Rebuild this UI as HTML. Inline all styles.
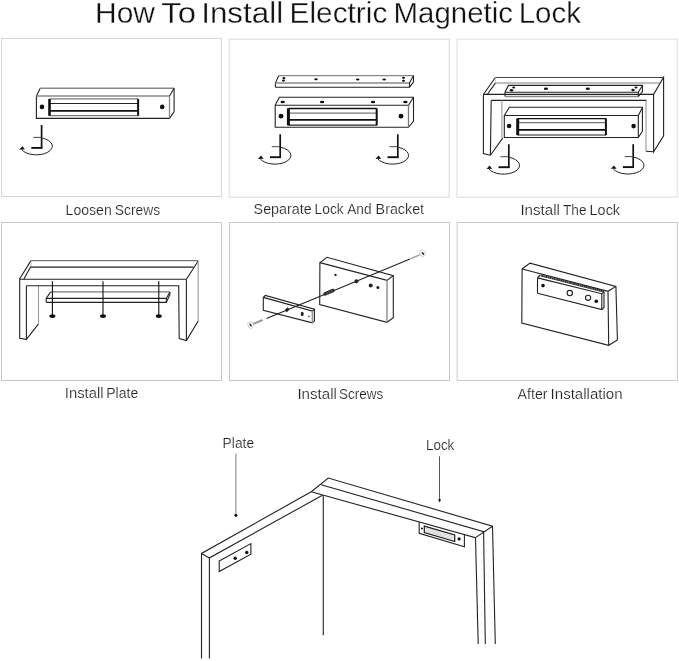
<!DOCTYPE html>
<html><head><meta charset="utf-8">
<style>
html,body{margin:0;padding:0;background:#fff;}
body{width:679px;height:661px;overflow:hidden;}
svg{display:block;will-change:transform;}
text{font-family:"Liberation Sans",sans-serif;}
</style></head>
<body>
<svg width="679" height="661" viewBox="0 0 679 661">
<defs>
<g id="rot">
  <path d="M41.6 125V148.6" stroke="#111" stroke-width="1.7" fill="none"/>
  <path d="M31.3 147.9H42.4" stroke="#111" stroke-width="1.9" fill="none"/>
  <path d="M33.2 137.4H41.6" stroke="#333" stroke-width="0.9" fill="none"/>
  <path d="M42.3 138.05A16 8.7 0 1 1 21.6 149.5" stroke="#222" stroke-width="1" fill="none"/>
  <path d="M19.3 149.6L22.4 146.3L25 149.5Z" fill="#111"/>
</g>
</defs>
<rect width="679" height="661" fill="#fff"/>
<!-- panel borders -->
<g fill="none" stroke-width="1">
  <rect x="1.6" y="38.5" width="219.8" height="158" stroke="#d5d5d5"/>
  <rect x="229.4" y="39.3" width="219.8" height="157.9" stroke="#e6e6e6" stroke-width="1.6"/>
  <rect x="457.1" y="39.3" width="220.3" height="157.9" stroke="#e9e9e9" stroke-width="1.6"/>
  <rect x="1.5" y="222.5" width="220" height="158" stroke="#c8c8c8"/>
  <rect x="229.5" y="222.5" width="220" height="158" stroke="#c8c8c8"/>
  <rect x="457.1" y="222.5" width="220.4" height="158" stroke="#cacaca"/>
</g>
<!-- title -->
<g font-size="29.5" fill="#111" stroke="#fff" stroke-width="0.3">
  <text x="95.10" y="22.8" textLength="59.90" lengthAdjust="spacingAndGlyphs">How</text>
  <text x="161.20" y="22.8" textLength="34.80" lengthAdjust="spacingAndGlyphs">To</text>
  <text x="201.20" y="22.8" textLength="82.00" lengthAdjust="spacingAndGlyphs">Install</text>
  <text x="289.60" y="22.8" textLength="97.70" lengthAdjust="spacingAndGlyphs">Electric</text>
  <text x="393.60" y="22.8" textLength="119.30" lengthAdjust="spacingAndGlyphs">Magnetic</text>
  <text x="518.70" y="22.8" textLength="62.20" lengthAdjust="spacingAndGlyphs">Lock</text>
</g>
<!-- captions -->
<g font-size="14.7" fill="#222" stroke="#fff" stroke-width="0.2">
  <text x="65.60" y="214.5" textLength="46.10" lengthAdjust="spacingAndGlyphs">Loosen</text>
  <text x="114.80" y="214.5" textLength="45.30" lengthAdjust="spacingAndGlyphs">Screws</text>
  <text x="253.60" y="213.5" textLength="58.10" lengthAdjust="spacingAndGlyphs">Separate</text>
  <text x="314.60" y="213.5" textLength="29.10" lengthAdjust="spacingAndGlyphs">Lock</text>
  <text x="347.20" y="213.5" textLength="24.30" lengthAdjust="spacingAndGlyphs">And</text>
  <text x="375.60" y="213.5" textLength="48.50" lengthAdjust="spacingAndGlyphs">Bracket</text>
  <text x="520.40" y="214.5" textLength="39.50" lengthAdjust="spacingAndGlyphs">Install</text>
  <text x="563.00" y="214.5" textLength="23.50" lengthAdjust="spacingAndGlyphs">The</text>
  <text x="589.60" y="214.5" textLength="30.50" lengthAdjust="spacingAndGlyphs">Lock</text>
  <text x="64.80" y="398" textLength="38.70" lengthAdjust="spacingAndGlyphs">Install</text>
  <text x="106.20" y="398" textLength="32.10" lengthAdjust="spacingAndGlyphs">Plate</text>
  <text x="297.40" y="399" textLength="39.50" lengthAdjust="spacingAndGlyphs">Install</text>
  <text x="339.00" y="399" textLength="44.30" lengthAdjust="spacingAndGlyphs">Screws</text>
  <text x="517.60" y="399" textLength="29.90" lengthAdjust="spacingAndGlyphs">After</text>
  <text x="550.60" y="399" textLength="71.90" lengthAdjust="spacingAndGlyphs">Installation</text>
  <text x="222.60" y="447.7" textLength="31.50" lengthAdjust="spacingAndGlyphs">Plate</text>
  <text x="426.00" y="449.8" textLength="28.30" lengthAdjust="spacingAndGlyphs">Lock</text>
</g>

<!-- PANEL 1 -->
<g fill="none" stroke="#222" stroke-width="1.1">
  <path d="M36.4 95.9L40.3 88.2M174.1 88.2V111.8L169.5 118.4H36.4V95.9"/>
  <path d="M40.3 88.2H174.1" stroke="#888" stroke-width="1.4"/>
  <path d="M36.4 96H169.5" stroke="#888" stroke-width="1.5"/>
  <path d="M169.5 96L174.1 88.2"/>
  <path d="M169.5 96V118.4" stroke="#888" stroke-width="1.3"/>
  <path d="M49.4 98.9H138.1" stroke="#777" stroke-width="1.3"/><path d="M49.4 103.5H138.1" stroke="#222" stroke-width="1"/><path d="M49.4 115.6H138.1" stroke="#777" stroke-width="1.3"/>
  <path d="M49.4 110.8H138.1" stroke-width="1.8" stroke="#111"/>
  <path d="M49.5 99V115.8" stroke-width="2.6" stroke="#111"/>
  <path d="M138.1 99V115.8" stroke-width="2" stroke="#111"/>
</g>
<circle cx="42" cy="106.9" r="2.3" fill="#111"/>
<circle cx="162.2" cy="106.9" r="2.3" fill="#111"/>
<use href="#rot"/>

<!-- PANEL 2 -->
<g fill="none" stroke="#222" stroke-width="1.1">
  <path d="M275.4 87.2V83L278.8 75.6M413.5 75.6V82L409.5 87.2H275.4"/><path d="M278.8 75.7H413.5" stroke="#888" stroke-width="1.3"/>
  <path d="M275.4 82.9H409.5" stroke="#888" stroke-width="1.5"/><path d="M409.5 83L413.5 75.6M409.5 83V87.2"/>
  <path d="M275.2 105.2L279.3 97.2H413.5V121.4L408.5 127.3H275.2Z"/>
  <path d="M275.2 105.3H408.5L413.5 97.2"/><path d="M408.5 105.3V127.3" stroke="#777" stroke-width="1.3"/>
  <path d="M288.4 108.5H376.7" stroke="#111" stroke-width="1.4"/><path d="M288.4 113.1H376.7" stroke="#777" stroke-width="1.2"/><path d="M288.4 125.2H376.7" stroke="#222" stroke-width="1.2"/>
  <path d="M288.4 119.8H376.7" stroke-width="1.8" stroke="#111"/>
  <path d="M288.4 108.3V125.4" stroke-width="3" stroke="#111"/>
  <path d="M376.7 108.3V125.4" stroke-width="2" stroke="#111"/>
</g>
<g fill="#111">
  <ellipse cx="283.9" cy="78.2" rx="1.5" ry="1.1"/><ellipse cx="283.4" cy="80.6" rx="1.5" ry="1.1"/>
  <ellipse cx="316" cy="79.3" rx="1.8" ry="1"/><ellipse cx="357.7" cy="79.4" rx="1.8" ry="1"/>
  <ellipse cx="384.2" cy="79.4" rx="1.8" ry="1"/>
  <ellipse cx="403.5" cy="77.8" rx="1.5" ry="1.1"/><ellipse cx="403.5" cy="80.8" rx="1.5" ry="1.1"/>
  <ellipse cx="282.7" cy="102" rx="2.2" ry="1.3"/><ellipse cx="322.1" cy="102" rx="2.2" ry="1.3"/>
  <ellipse cx="373" cy="102" rx="2.2" ry="1.3"/><ellipse cx="405.4" cy="102" rx="2.2" ry="1.3"/>
  <circle cx="281" cy="116.2" r="2.4"/><circle cx="401" cy="116.2" r="2.4"/>
</g>
<use href="#rot" x="238.6" y="9.3"/>
<use href="#rot" x="356.2" y="9.3"/>

<!-- PANEL 3 -->
<g fill="none" stroke="#222" stroke-width="1.1">
  <path d="M483.4 94.5L495.3 77.5"/><path d="M495.3 77.5H663.6" stroke="#444"/>
  <path d="M487.3 94.5L495.5 82.9"/>
  <path d="M495.5 82.9H659.5" stroke="#aaa" stroke-width="1.5"/><path d="M495.3 77.5V82.9" stroke="#bbb" stroke-width="0.8"/>
  <path d="M483.4 94.4H653.6L663.6 77.3V135.9L653.6 151.8V94.1"/>
  <path d="M653.6 151.8L646 151.2"/>
  <path d="M646 151.2V100.4" stroke="#999"/>
  <path d="M491.2 100.4H646.3"/>
  <path d="M483.4 94.5V153.6L490.4 155.2L502.7 138.1M491.2 100.4L490.4 155.2"/>
  <path d="M501.9 100.4V138.1" stroke="#999"/>
  <path d="M505 96.5V92.2L508.5 85.4H642.4V91.8L638.3 96.5"/><path d="M505 96.5H638.3" stroke="#888" stroke-width="1.5"/>
  <path d="M505 92.2H638.3L642.4 85.5M638.3 92.4V96.5"/>
  <path d="M504.3 115.5L509.4 107.2H642.4V131.2L638.3 137.5H504.3Z"/>
  <path d="M504.3 115.5H638.3L642.4 107.7M638.3 115.5V137.5"/>
  <path d="M517.7 118.6H605.9" stroke="#111" stroke-width="1.4"/><path d="M517.7 122.7H605.9" stroke="#777" stroke-width="1.2"/><path d="M517.7 135H605.9" stroke="#222" stroke-width="1.2"/>
  <path d="M517.7 129.9H605.9" stroke-width="1.8" stroke="#111"/>
  <path d="M517.7 118.4V135.2" stroke-width="3" stroke="#111"/>
  <path d="M605.9 118.4V135.2" stroke-width="2" stroke="#111"/>
</g>
<g fill="#111">
  <circle cx="509.1" cy="126" r="2.3"/><circle cx="633.6" cy="126.1" r="2.3"/>
  <ellipse cx="513.7" cy="87.4" rx="1.5" ry="1"/><ellipse cx="511.5" cy="90.2" rx="1.7" ry="1.2"/>
  <ellipse cx="545.9" cy="88.8" rx="2.1" ry="1.3"/><ellipse cx="587.8" cy="88.8" rx="2.1" ry="1.3"/>
  <ellipse cx="633" cy="90" rx="1.7" ry="1.2"/><ellipse cx="636" cy="87.4" rx="1.5" ry="1"/>
</g>
<use href="#rot" x="467.2" y="19.3"/>
<use href="#rot" x="591.6" y="19.2"/>

<!-- PANEL 4 -->
<g fill="none" stroke="#222" stroke-width="1.1">
  <path d="M19.4 279.2L31 260.6"/><path d="M31 260.7H198.2" stroke="#777" stroke-width="1.3"/><path d="M31 260.6V267" stroke="#aaa" stroke-width="0.8"/>
  <path d="M23.8 279.2L30.5 267.1H193.6"/>
  <path d="M19.4 279.2H186.4L198.2 261"/>
  <path d="M19.7 279.2V338.2L26.4 339.3L38.5 323.8"/>
  <path d="M38.5 323.8V285.7" stroke="#999"/>
  <path d="M26.4 285.7V339.3M26.4 285.7H178.7L179.2 338.5L186.4 340.5L198.2 321"/>
  <path d="M198.2 321V261" stroke="#999"/>
  <path d="M186.4 279.5V340.5"/>
  <path d="M46.2 302.2V298.4L50.6 291.9" /><path d="M50.6 291.9H169.9" stroke="#777" stroke-width="1.3"/><path d="M169.9 291.9V294.6L166.3 302.4H46.2"/>
  <path d="M46.2 298.4H166.3L169.9 292M166.3 298.5V302.4"/>
  <path d="M52.4 281.3V315M103 281.3V315M158.8 281.3V315" stroke="#111"/>
</g>
<g fill="#111">
  <ellipse cx="52.4" cy="316.1" rx="3" ry="1.9"/>
  <ellipse cx="103" cy="316.1" rx="3" ry="1.9"/>
  <ellipse cx="158.8" cy="316.1" rx="3" ry="1.9"/>
</g>

<!-- PANEL 5 -->
<g fill="none" stroke="#222" stroke-width="1.1">
  <path d="M319.9 262.6L327 257.3L393.3 275.6V317.8L387 322.3L319.7 304.5Z"/>
  <path d="M319.9 262.6L387 280.4L393.3 275.6"/>
  <path d="M387 280.4V322.3" stroke="#999" stroke-width="1.6"/>
  <path d="M263.3 310.3V297.4L265.3 295.4L314.4 309.1V321L312.4 322.9Z"/>
  <path d="M263.3 297.4L312.4 311.1L314.4 309.1"/>
  <path d="M312.4 311.1V322.9" stroke="#999" stroke-width="1.6"/>
  <path d="M410 259L266.5 318.6" stroke="#222"/>
  <path d="M325 293.8L333 290.5" stroke="#333" stroke-width="3.6" stroke-linecap="round"/><path d="M326.5 292.1L327.8 294.4M328.8 291.2L330.1 293.5M331.1 290.3L332.4 292.6" stroke="#777" stroke-width="0.6"/>
  <path d="M410.5 258.8L420 254.7" stroke="#aaa" stroke-width="1.6"/><path d="M262.6 320L253 324" stroke="#999" stroke-width="2"/>
</g>
<g fill="#222">
  <circle cx="335.5" cy="274.9" r="1.2"/><circle cx="356.4" cy="281.2" r="2"/>
  <circle cx="370.7" cy="285.5" r="2"/><circle cx="377.9" cy="287.5" r="1.5"/>
  <path d="M287.6 307.2L289.6 309.5L286.8 312.3L284.8 310Z"/>
  <ellipse cx="302.2" cy="313.9" rx="1.5" ry="2.2"/><circle cx="308.9" cy="316.2" r="0.8"/>
</g>
<g fill="#fff" stroke="#d4d4d4" stroke-width="1">
  <ellipse cx="422.5" cy="253.3" rx="2.6" ry="3.2" transform="rotate(-20 422.5 253.3)"/>
  <ellipse cx="250.6" cy="325" rx="2.6" ry="3.2" transform="rotate(-20 250.6 325)"/>
</g>
<ellipse cx="422.8" cy="253.4" rx="0.9" ry="1.7" fill="#333" transform="rotate(-40 422.8 253.4)"/>
<ellipse cx="250.6" cy="325" rx="0.9" ry="1.7" fill="#333" transform="rotate(-30 250.6 325)"/>

<!-- PANEL 6 -->
<g fill="none" stroke="#222" stroke-width="1.1">
  <path d="M522.1 269L530 263.1L615.9 286.4L617.4 340L608.7 345.3L521.8 323Z"/>
  <path d="M522.1 269L608 291.3L615.9 286.4M608 291.3L608.7 345.3"/>
  <path d="M537.5 293.3V280Q537.5 276.5 540.5 275.3M604 291.6V307.5L601.8 309.6L537.5 293.3"/>
  <path d="M537.5 277.9L601.8 293.7L604 291.9M601.8 293.7V309.6"/>
  <path d="M540.5 275.4L604 291.5" stroke="#222" stroke-width="1.9"/><path d="M540.5 275.4L604 291.5" stroke="#999" stroke-width="1.2" stroke-dasharray="0.9 1.3"/>
  <circle cx="569.8" cy="293.1" r="2.7"/><circle cx="588.1" cy="297.8" r="2.6"/>
</g>
<g fill="#111">
  <circle cx="543" cy="285.6" r="1.8"/><circle cx="596.3" cy="301.2" r="1.8"/>
</g>

<!-- BOTTOM -->
<g fill="none" stroke="#222" stroke-width="1.1">
  <path d="M201.5 658.4V553.4L311.2 491.8L328.3 478L492.5 526.2L495.3 644"/>
  <path d="M209.4 658.4V557.9L322.4 495.3"/>
  <path d="M323.3 495.3V635.2" stroke="#333" stroke-width="1.2"/>
  <path d="M201.5 553.4L209.4 557.9"/>
  <path d="M311.2 491.8L475.5 537.6L478.2 644"/>
  <path d="M321.2 484.7L483.6 531.7L485.3 644"/>
  <path d="M475.5 537.6L492.5 526.2"/>
  <path d="M219.2 561L250.9 543.6V554.2L219.2 571.5Z"/>
  <path d="M419.2 521.9L419.2 533.4L464.4 546.7L464.4 534.5"/>
  <path d="M424.3 526.1L454.7 535L454.7 541.5L424.3 532.6Z" stroke="#1a1a1a" stroke-width="1.2"/><path d="M425.5 528.2L453.5 536.4M425.5 529.8L453.5 538M425.5 531.3L453.5 539.5" stroke="#c4c4c4" stroke-width="0.8"/>
  <path d="M235.9 453.7V514" stroke="#999" stroke-width="1.3"/><path d="M439.5 456.3V500.5" stroke="#555" stroke-width="1"/>
</g>
<g fill="#111">
  <circle cx="235.2" cy="558.2" r="1.7"/><circle cx="246.8" cy="552.5" r="1.7"/>
  <circle cx="421.9" cy="528.5" r="1"/><circle cx="459.1" cy="538.9" r="1.6"/>
  <path d="M234.3 514.6L237.5 514.6L235.9 517.2Z"/><circle cx="235.9" cy="515.3" r="1.4"/><path d="M438 499.2L441.2 499.6L439.6 502.5Z"/>
</g>
</svg>
</body></html>
